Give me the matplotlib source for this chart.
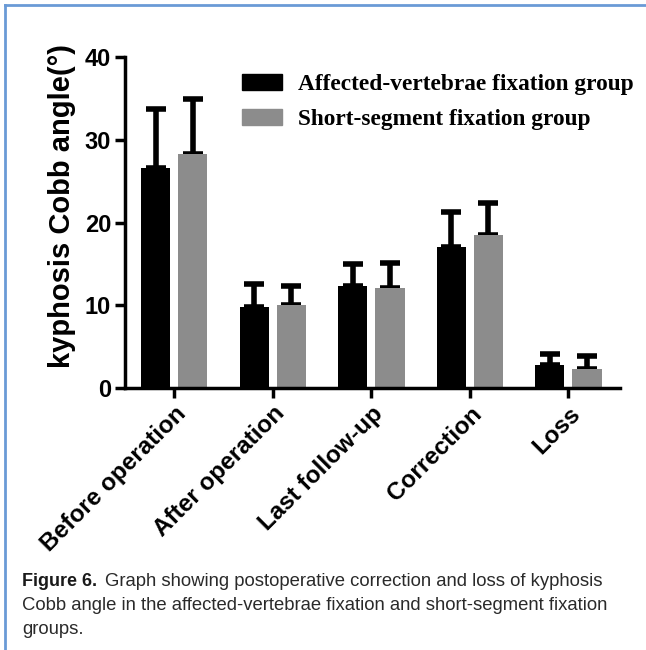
import matplotlib.pyplot as plt
from matplotlib.patches import Patch
from matplotlib.lines import Line2D
import numpy as np

categories = ["Before operation", "After operation", "Last follow-up", "Correction", "Loss"]
affected_mean = [26.6, 9.8, 12.3, 17.0, 2.8]
affected_sd = [7.1, 2.8, 2.7, 4.3, 1.3]
short_mean = [28.3, 10.0, 12.1, 18.5, 2.3]
short_sd = [6.6, 2.3, 3.0, 3.9, 1.6]
labels = ["Affected-vertebrae fixation group", "Short-segment fixation group"]
caption_lines = [
  "Graph showing postoperative correction and loss of kyphosis",
  "Cobb angle in the affected-vertebrae fixation and short-segment fixation",
  "groups.",
]

fig = plt.figure(figsize=(6.46, 6.5), dpi=100)
ax = fig.add_axes([0.1935, 0.403, 0.767, 0.509])

x = np.arange(len(categories))
w = 0.295
off = 0.19
ax.bar(x - off, affected_mean, w, color="black", zorder=2)
ax.bar(x + off, short_mean, w, color="#8c8c8c", zorder=2)
ax.errorbar(x - off, affected_mean, yerr=[np.zeros(5), affected_sd], fmt="none",
            ecolor="black", elinewidth=4, capsize=7, capthick=4, zorder=1)
ax.errorbar(x + off, short_mean, yerr=[np.zeros(5), short_sd], fmt="none",
            ecolor="black", elinewidth=4, capsize=7, capthick=4, zorder=1)

ax.set_xlim(-0.5, 4.53)
ax.set_ylim(0, 40)
ax.set_yticks([0, 10, 20, 30, 40])
ax.set_xticks(x)
ax.set_xticklabels(categories, rotation=45, ha="right", rotation_mode="anchor",
                   fontsize=17.5, fontweight="bold", family="Liberation Sans")
for t in ax.get_yticklabels():
  t.set_fontsize(17)
  t.set_fontweight("bold")
  t.set_family("Liberation Sans")
ax.tick_params(axis="both", width=2.5, length=7, pad=3)
for s in ["top", "right"]:
  ax.spines[s].set_visible(False)
for s in ["left", "bottom"]:
  ax.spines[s].set_linewidth(2.5)
ax.set_ylabel("kyphosis Cobb angle(°)", fontsize=21, fontweight="bold",
              family="Liberation Sans")
ax.yaxis.set_label_coords(-0.098, 0.55)

handles = [Patch(facecolor="black", edgecolor="black"),
           Patch(facecolor="#8c8c8c", edgecolor="#8c8c8c")]
fig.legend(handles, labels, loc="upper left", bbox_to_anchor=(0.342, 0.919),
           frameon=False, handlelength=1.7, handleheight=0.7, handletextpad=0.7,
           labelspacing=0.6,
           prop={"family": "Liberation Serif", "weight": "bold", "size": 16.8})

# blue frame lines
fig.add_artist(Line2D([0.008, 0.008], [0, 0.992], color="#6a9ad6", lw=2, transform=fig.transFigure))
fig.add_artist(Line2D([0.008, 1], [0.992, 0.992], color="#6a9ad6", lw=2, transform=fig.transFigure))

fig.text(0.034, 0.106, "Figure 6.", fontsize=13, fontweight="bold", color="#1a1a1a",
         family="Liberation Sans", va="center")
fig.text(0.162, 0.106, caption_lines[0], fontsize=13.3, color="#2a2a2a",
         family="Liberation Sans", va="center")
fig.text(0.034, 0.068, caption_lines[1], fontsize=13.3, color="#2a2a2a",
         family="Liberation Sans", va="center")
fig.text(0.034, 0.031, caption_lines[2], fontsize=13.3, color="#2a2a2a",
         family="Liberation Sans", va="center")

fig.savefig("out.png", dpi=100)
